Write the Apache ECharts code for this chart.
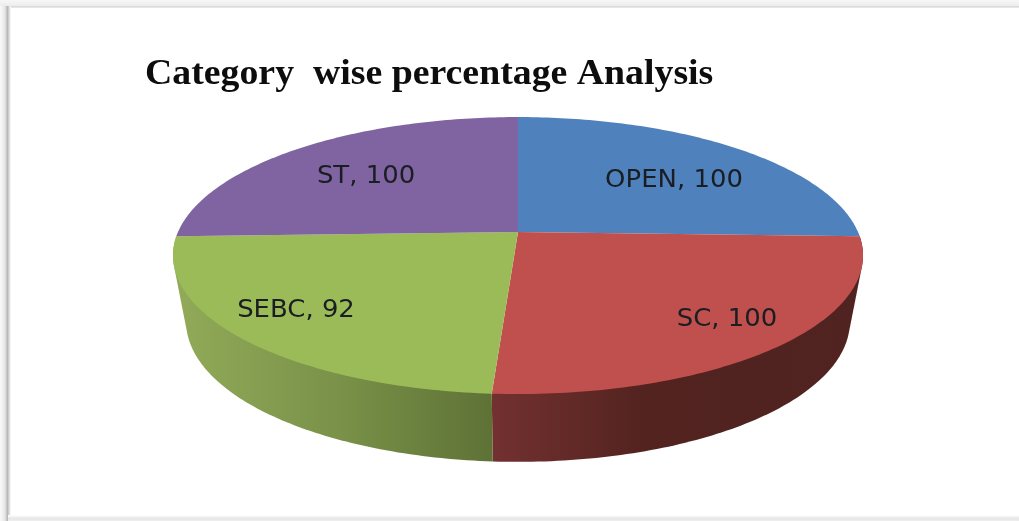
<!DOCTYPE html>
<html>
<head>
<meta charset="utf-8">
<style>html,body{margin:0;padding:0;background:#fff}#chart{width:1019px;height:521px;filter:blur(0.5px)}</style>
<script src="https://cdn.jsdelivr.net/npm/echarts@6/dist/echarts.min.js"></script>
</head>
<body>
<div id="chart"></div>
<script>
const titleText = 'Category  wise percentage Analysis';
const categories = ['OPEN', 'SC', 'SEBC', 'ST'];
const values = [100, 100, 92, 100];
const topColors = ['#4f81bd', '#c0504d', '#9bbb59', '#8064a2'];
const sideStops = [
  [[0, '#2f4d71'], [1, '#2f4d71']],
  [[0, '#733130'], [0.42, '#52231f'], [1, '#502321']],
  [[0, '#90aa58'], [0.5, '#7a9249'], [1, '#5e7236']],
  [[0, '#4c3c61'], [1, '#4c3c61']]
];
const sideSpans = [[491, 862], [491, 862], [180, 491], [180, 518]];
const labelCenters = [[674, 181], [727, 320], [296, 311], [366, 177]];

const view = { cx: 518, cy: 232, a: 340, b: 134.5, k: 0.17 };
const base = { cx: 518, cy: 298, a: 327, b: 136, k: 0.17 };
const total = values.reduce((s, v) => s + v, 0);

function project(p, th, r) {
  const u = Math.sin(th) * r, v = -Math.cos(th) * r, w = 1 - p.k * v;
  return [p.cx + p.a * u / w, p.cy + p.b * v / w];
}
function arc(p, t0, t1) {
  const n = Math.max(2, Math.ceil((t1 - t0) * 60)), pts = [];
  for (let i = 0; i <= n; i++) pts.push(project(p, t0 + (t1 - t0) * i / n, 1));
  return pts;
}
function hull(points) {
  const pts = points.slice().sort((a, b) => a[0] - b[0] || a[1] - b[1]);
  const cross = (o, a, b) => (a[0] - o[0]) * (b[1] - o[1]) - (a[1] - o[1]) * (b[0] - o[0]);
  const half = list => {
    const out = [];
    for (const p of list) {
      while (out.length > 1 && cross(out[out.length - 2], out[out.length - 1], p) <= 0) out.pop();
      out.push(p);
    }
    out.pop();
    return out;
  };
  return half(pts).concat(half(pts.slice().reverse()));
}
function renderSlice(params, api) {
  const i = params.dataIndex;
  let before = 0;
  for (let j = 0; j < i; j++) before += values[j];
  const t0 = before / total * Math.PI * 2;
  const t1 = (before + api.value(1)) / total * Math.PI * 2;
  const rimTop = arc(view, t0, t1);
  const rimBase = arc(base, t0, t1);
  const span = sideSpans[i];
  const children = [];
  // only slices facing the viewer show their wall
  if (Math.cos((t0 + t1) / 2) < 0) {
    children.push({
      type: 'polygon', z2: 1,
      shape: { points: hull(rimTop.concat(rimBase)) },
      style: {
        fill: {
          type: 'linear', global: true, x: span[0], y: 0, x2: span[1], y2: 0,
          colorStops: sideStops[i].map(s => ({ offset: s[0], color: s[1] }))
        }
      }
    });
  }
  children.push({
    type: 'polygon', z2: 2,
    shape: { points: [project(view, 0, 0)].concat(rimTop) },
    style: { fill: topColors[i] }
  });
  children.push({
    type: 'text', z2: 3,
    x: labelCenters[i][0], y: labelCenters[i][1],
    scaleX: 1.08,
    style: {
      text: categories[i] + ', ' + api.value(1),
      font: '24px "DejaVu Sans"', fill: '#1a1d22',
      align: 'center', verticalAlign: 'middle'
    }
  });
  return { type: 'group', children };
}
function band(x, y, width, height, horizontal, stops) {
  return {
    type: 'rect', shape: { x, y, width, height }, silent: true,
    style: {
      fill: {
        type: 'linear', x: 0, y: 0, x2: horizontal ? 1 : 0, y2: horizontal ? 0 : 1,
        colorStops: stops.map(s => ({ offset: s[0], color: s[1] }))
      }
    }
  };
}
const chart = echarts.init(document.getElementById('chart'), null, { renderer: 'canvas' });
chart.setOption({
  animation: false,
  backgroundColor: '#ffffff',
  graphic: [
    band(0, 0, 1019, 8, false, [[0, '#f7f7f7'], [0.7, '#ededed'], [0.88, '#cfcfcf'], [1, '#ffffff']]),
    band(0, 6, 11, 515, true, [[0, '#fafafa'], [0.45, '#e6e6e6'], [0.68, '#b8b8b8'], [1, '#ffffff']]),
    band(8, 515, 1011, 6, false, [[0, '#ffffff'], [0.6, '#e6e6e6'], [1, '#eeeeee']]),
    {
      type: 'text', x: 145, y: 75, scaleX: 1.05, silent: true,
      style: {
        text: titleText, font: 'bold 36px "Liberation Serif"', fill: '#0d0d0d',
        align: 'left', verticalAlign: 'middle'
      }
    }
  ],
  series: [{
    type: 'custom',
    coordinateSystem: 'none',
    data: categories.map((c, i) => ({ name: c, value: [i, values[i]] })),
    encode: { value: 1 },
    renderItem: renderSlice
  }]
});
</script>
</body>
</html>
